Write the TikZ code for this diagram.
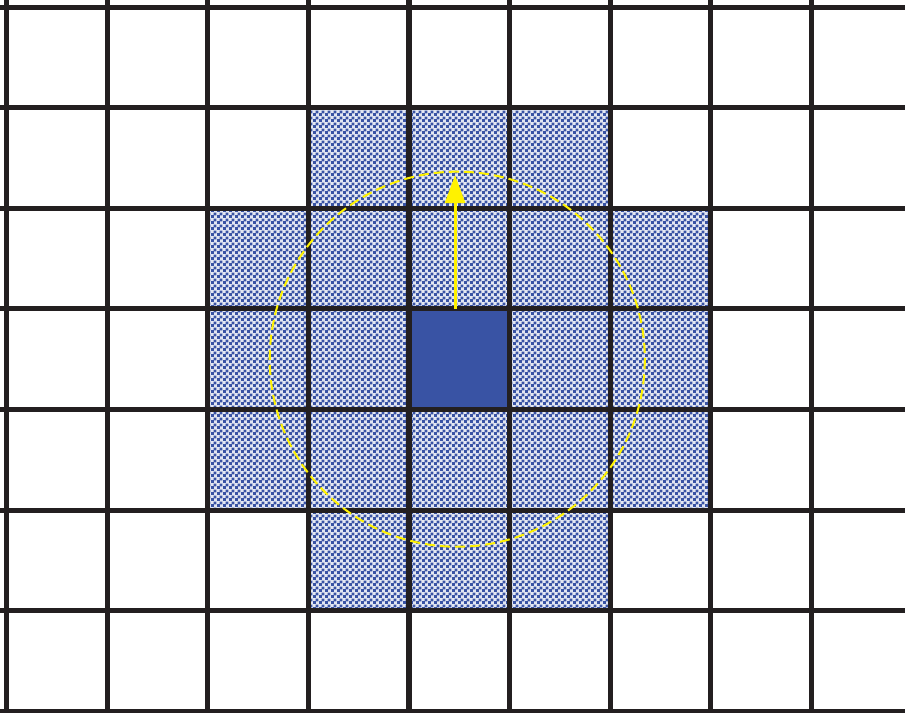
\documentclass[tikz,border=0pt]{standalone}
\usetikzlibrary{patterns.meta,arrows.meta}
\definecolor{cellblue}{HTML}{3953A4}
\definecolor{ringyellow}{HTML}{FFF200}
\definecolor{gridblack}{HTML}{231F20}
\tikzdeclarepattern{name=dither,type=uncolored,
  bounding box={(0,0) and (0.06cm,0.06cm)},
  tile size={(0.06cm,0.06cm)},
  code={\fill (0,0) rectangle (0.032cm,0.032cm); \fill (0.03cm,0.03cm) rectangle (0.062cm,0.062cm);}}
\tikzset{
  gridline/.style={draw=gridblack,line width=0.05cm},
  shadedcell/.style={fill=cellblue!14,postaction={pattern=dither,pattern color=cellblue}},
  solidcell/.style={fill=cellblue},
  ring/.style={draw=ringyellow,line width=0.02cm,dash pattern=on 0.1cm off 0.05cm},
  radius arrow/.style={draw=ringyellow,line width=0.03cm,-{Triangle[length=0.28cm,width=0.2cm]}}
}
\begin{document}
\begin{tikzpicture}[y=-1cm]
\useasboundingbox (-0.065,-0.07) rectangle (8.93,7.008);
\clip (-0.065,-0.07) rectangle (8.93,7.008);
% shaded cells
\foreach \c/\r in {3/1,4/1,5/1,
                   2/2,3/2,4/2,5/2,6/2,
                   2/3,3/3,5/3,6/3,
                   2/4,3/4,4/4,5/4,6/4,
                   3/5,4/5,5/5}
  \path[shadedcell] (\c,\r) rectangle ++(1,1);
\node[solidcell,minimum width=1cm,minimum height=1cm,inner sep=0pt,anchor=north west] (centre) at (4,3) {};
% grid
\foreach \x in {0,...,8} \draw[gridline] (\x,-0.2) -- (\x,7.2);
\foreach \y in {0,...,7} \draw[gridline] (-0.2,\y) -- (9.2,\y);
% ring and radius
\coordinate (ringcentre) at (4.48,3.5);
\draw[ring] (ringcentre) circle (1.864);
\coordinate (base) at (4.458,3.0);
\coordinate (tip) at (4.458,1.67);
\draw[radius arrow] (base) -- (tip);
\end{tikzpicture}
\end{document}
